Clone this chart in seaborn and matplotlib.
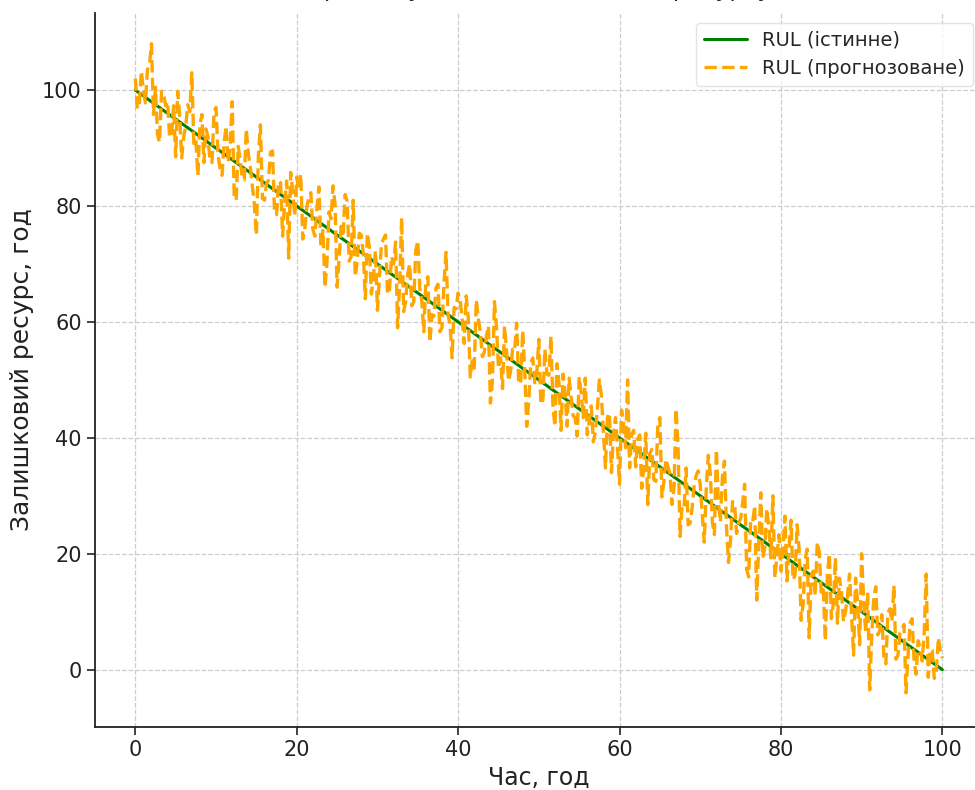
import numpy as np
import pandas as pd
import seaborn as sns
import matplotlib.pyplot as plt

# true RUL: straight line from 100 h down to 0 h
time_true = [0, 100]
rul_true = [100, 0]

# predicted RUL at t = 0, 0.5, 1.0 ... 100 h
rul_pred_half = [
    102, 97.5, 100, 103.5, 108, 100.5, 91, 99.5, 98, 92.5,
    88.5, 95.5, 92, 97.5, 103, 91.5, 94, 87.5, 92, 87.5,
    97, 86.5, 91, 87.5, 98, 81, 88, 84.5, 89, 83.5,
    75, 94, 81, 84.5, 89.5, 78.5, 84, 80.5, 71, 82.5,
    85, 85.5, 76, 81.5, 76, 79.5, 73, 66, 79, 83.5,
    66, 76.5, 82, 70.5, 81, 70.5, 75, 64, 73, 67.5,
    62, 73.5, 75, 65.5, 70, 59, 78, 63.5, 70, 63.5,
    74, 63.5, 67, 56.5, 61, 66.5, 59, 72, 59.5, 62.5,
    65, 60.5, 64.5, 50.5, 52, 60.5, 54, 57.5, 46, 63.5,
    52, 48.5, 55, 51.5, 55, 49.5, 58.5, 42, 53, 49.5,
    57, 46.5, 51, 57.5, 42, 49.5, 51, 42, 47, 43.5,
    50.5, 43.5, 40.5, 45.5, 41, 50, 41, 43.5, 34, 43.5,
    32, 42.5, 50, 40.5, 35, 40.5, 35, 28.5, 38, 32.5,
    43.5, 32.5, 35, 28.5, 45, 23, 28, 25, 28, 33.5,
    32, 22, 37, 25.5, 38, 25.5, 36, 18.5, 29, 23.5,
    26, 32, 16, 25.5, 12, 30.5, 21, 24.5, 30, 19.5,
    17, 26.5, 21, 15.5, 25, 8.5, 19, 5.5, 17, 22,
    13, 5, 20, 11.5, 8, 13.5, 10, 16.5, 2.5, 11.5,
    20, 6.5, -3.5, 12.5, 6, 9.5, 1, 10.5, 14.5, 2.5,
    7, -4, 8, 1.5, 5, 1.5, 16.5, 3.5, -1.5, 5.5,
    2,
]

# predicted RUL in between, at t = 0.25, 0.75 ... 99.75 h
rul_pred_quarter = [
    96.8, 103.3, 97.8, 104.3, 95.8, 92.3, 99.8, 97.3, 91.8, 97.3,
    99.8, 88.3, 93.8, 96.3, 90.8, 85.3, 95.8, 93.3, 87.8, 96.3,
    88.8, 85.3, 93.8, 90.3, 81.8, 90.3, 84.8, 93.3, 86.8, 80.3,
    88.8, 81.3, 83.8, 89.3, 78.8, 84.3, 74.8, 84.3, 85.8, 78.3,
    82.8, 74.3, 79.8, 82.3, 74.8, 83.3, 75.8, 70.3, 77.8, 80.3,
    70.8, 75.3, 80.8, 71.3, 67.8, 75.3, 71.8, 75.3, 64.8, 72.3,
    67.8, 74.3, 64.8, 71.3, 73.8, 66.3, 61.8, 68.3, 62.8, 72.3,
    65.8, 58.3, 67.8, 61.3, 65.8, 58.3, 66.8, 61.3, 53.8, 62.3,
    63.8, 56.3, 60.8, 53.3, 63.8, 58.3, 54.8, 59.3, 49.8, 59.3,
    53.8, 59.3, 49.8, 55.3, 59.8, 49.3, 51.8, 46.3, 53.8, 51.3,
    45.8, 55.3, 50.8, 45.3, 52.8, 41.3, 47.8, 50.3, 43.8, 40.3,
    47.8, 50.3, 42.8, 39.3, 44.8, 47.3, 34.8, 44.3, 40.8, 38.3,
    44.8, 38.3, 34.8, 41.3, 39.8, 31.3, 40.8, 37.3, 32.8, 42.3,
    29.8, 36.3, 33.8, 31.3, 38.8, 28.3, 34.8, 25.3, 31.8, 34.3,
    26.8, 31.3, 33.8, 23.3, 28.8, 33.3, 24.8, 22.3, 28.8, 25.3,
    28.8, 17.3, 25.8, 28.3, 21.8, 19.3, 27.8, 19.3, 15.8, 23.3,
    20.8, 15.3, 25.8, 16.3, 20.8, 11.3, 20.8, 16.3, 12.8, 20.3,
    13.8, 16.3, 8.8, 19.3, 15.8, 8.3, 12.8, 9.3, 15.8, 4.3,
    11.8, 13.3, 5.8, 14.3, 6.8, 2.3, 9.8, 8.3, 1.8, 6.3,
    7.8, 2.3, 8.8, -0.8, 3.8, 6.3, -1.3, 3.3, -0.3, 3.3,
]

rul_pred = np.empty(len(rul_pred_half) + len(rul_pred_quarter))
rul_pred[0::2] = rul_pred_half
rul_pred[1::2] = rul_pred_quarter
time_pred = np.linspace(0, 100, len(rul_pred))

df_true = pd.DataFrame({'time': time_true, 'rul': rul_true})
df_pred = pd.DataFrame({'time': time_pred, 'rul': rul_pred})

sns.set_style('ticks')
plt.rcParams.update({'font.family': ['DejaVu Sans'], 'font.size': 14})

fig = plt.figure(figsize=(9.75, 7.9), dpi=100)
ax = fig.add_axes([0.0974, 0.0797, 0.9105, 0.9038])

sns.lineplot(data=df_true, x='time', y='rul', color='green', linewidth=2.2,
             label='RUL (істинне)', ax=ax)
sns.lineplot(data=df_pred, x='time', y='rul', color='orange', linewidth=2.4,
             linestyle='--', label='RUL (прогнозоване)', ax=ax)

ax.set_xlim(-5, 105)
ax.set_ylim(-9.9, 113.3)
ax.set_xticks([0, 20, 40, 60, 80, 100])
ax.set_yticks([0, 20, 40, 60, 80, 100])
ax.tick_params(labelsize=15, length=6, width=1.2, colors='#222222')
ax.grid(True, linestyle='--', color='#cccccc', linewidth=0.9)
ax.set_axisbelow(True)
sns.despine(ax=ax)
for s in ['left', 'bottom']:
    ax.spines[s].set_color('#222222')
    ax.spines[s].set_linewidth(1.3)

ax.set_xlabel('Час, год', fontsize=17, color='#222222', labelpad=4)
ax.set_ylabel('Залишковий ресурс, год', fontsize=18, color='#222222', labelpad=6)
# the title sits mostly above the canvas, as in the cropped original
ax.set_title('Прогнозування залишкового ресурсу', fontsize=17, pad=12)

ax.legend(loc='upper right', fontsize=14, frameon=True, fancybox=True,
          edgecolor='#dddddd', borderaxespad=0.5, handlelength=2.2)

fig.savefig('out.png', dpi=100)
